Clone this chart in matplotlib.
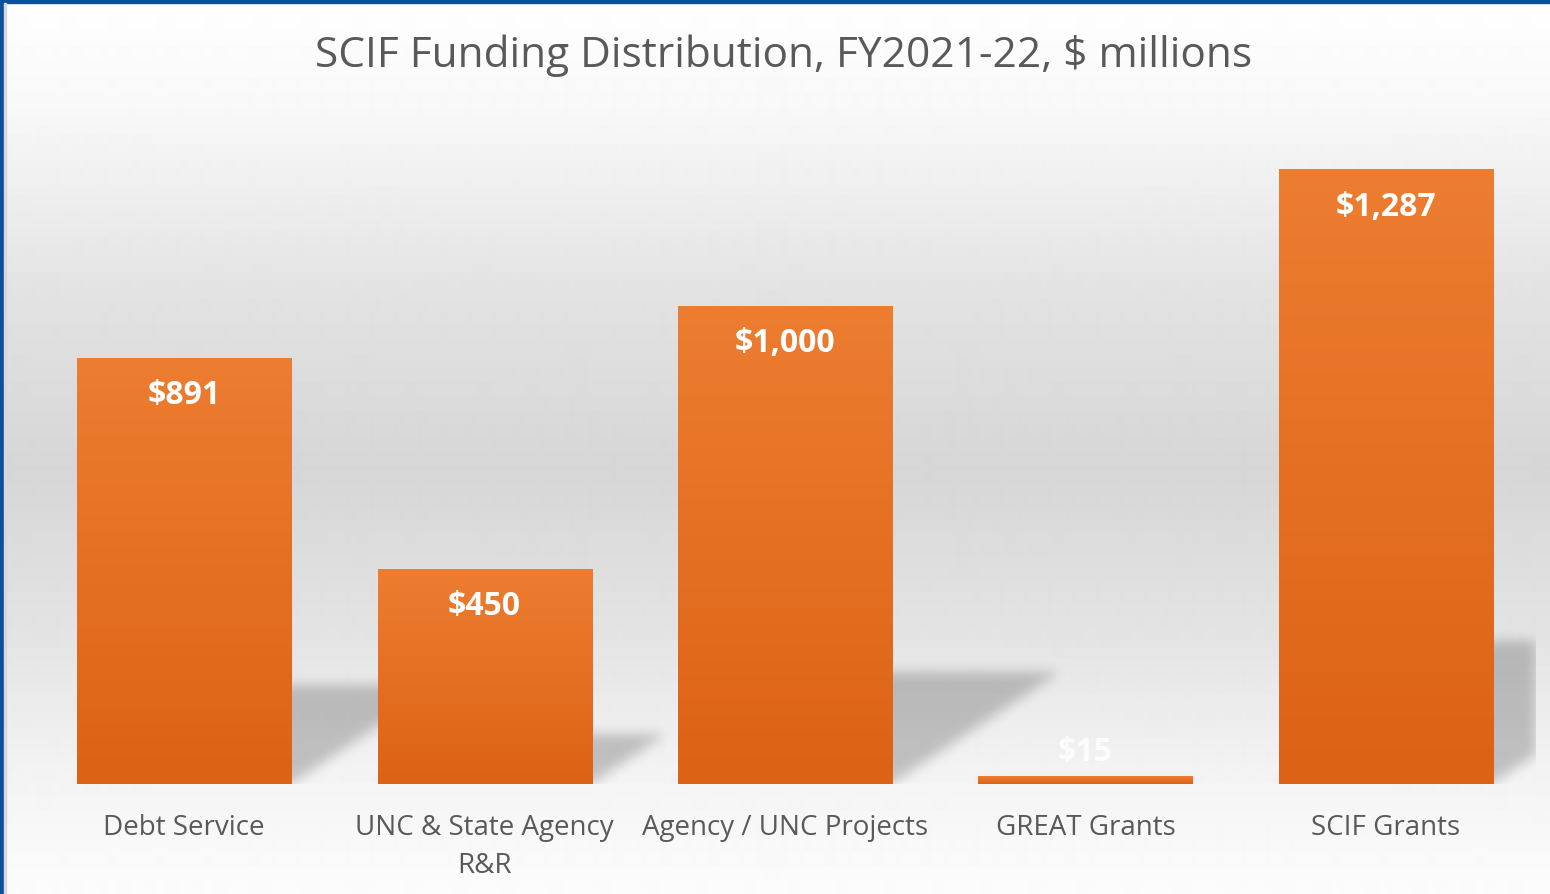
"""SCIF funding distribution bar chart, FY2021-22 ($ millions)."""
import numpy as np
import matplotlib
matplotlib.use("Agg")
import matplotlib.pyplot as plt
from matplotlib.patches import Rectangle
from matplotlib.colors import LinearSegmentedColormap

categories = ["Debt Service", "UNC & State Agency\nR&R", "Agency / UNC Projects",
              "GREAT Grants", "SCIF Grants"]
values = [891, 450, 1000, 15, 1287]
value_labels = ["$891", "$450", "$1,000", "$15", "$1,287"]

W, H = 1550, 895
plt.rcParams["font.family"] = ["Open Sans", "DejaVu Sans"]
fig = plt.figure(figsize=(W / 100, H / 100), dpi=100)

# page background: white -> grey -> white vertical gradient
bg = fig.add_axes([0, 0, 1, 1], zorder=0)
stops_y = [0, 110, 300, 470, 640, 783, 895]
stops_v = [255, 248, 226, 214, 228, 244, 252]
rows = np.interp(np.arange(H), stops_y, stops_v) / 255
bg.imshow(rows[:, None], cmap="gray", vmin=0, vmax=1, aspect="auto",
          extent=[0, 1, 0, 1], interpolation="bilinear")
bg.set_xlim(0, 1)
bg.set_ylim(0, 1)
bg.axis("off")

# blue frame on the left and top edges
fig.add_artist(Rectangle((0, 0), 3.5 / W, 1, transform=fig.transFigure,
                         color="#0B4F9E", zorder=10))
fig.add_artist(Rectangle((0, 1 - 3.5 / H), 1, 3.5 / H, transform=fig.transFigure,
                         color="#0B4F9E", zorder=10))
fig.add_artist(Rectangle((3.5 / W, 0), 2 / W, 1 - 3.5 / H, transform=fig.transFigure,
                         color="#d8d8d8", zorder=10))

ax = fig.add_axes([34 / W, 110 / H, 1502 / W, 668 / H], zorder=1)
ax.patch.set_alpha(0)
bar_w = 0.713
xlim, ylim = (-0.5, 4.5), (0, 1400)

# soft perspective shadows behind the bars
nx, ny = 1502, 668
X, Y = np.meshgrid(np.linspace(*xlim, nx), np.linspace(*ylim, ny))
mask = np.zeros_like(X)
for i, v in enumerate(values):
    dy, dx = 0.233 * v, 0.000556 * v
    t = Y / dy
    inside = (Y <= dy) & (X >= i - bar_w / 2 + t * dx) & (X <= i + bar_w / 2 + t * dx)
    mask = np.maximum(mask, inside.astype(float))
k = np.exp(-0.5 * (np.arange(-18, 19) / 6.0) ** 2)
k /= k.sum()
mask = np.apply_along_axis(lambda r: np.convolve(r, k, mode="same"), 1, mask)
mask = np.apply_along_axis(lambda c: np.convolve(c, k, mode="same"), 0, mask)
shadow = np.zeros((ny, nx, 4))
shadow[..., 3] = 0.21 * mask
ax.imshow(shadow, extent=[*xlim, *ylim], origin="lower", aspect="auto", zorder=1)

# bars with a light-top / dark-bottom orange gradient
bars = ax.bar(range(len(values)), values, width=bar_w, color="#E5712A", zorder=2)
orange = LinearSegmentedColormap.from_list("orange", ["#DC6215", "#ED7D31"])
grad = np.linspace(0, 1, 256)[:, None]
for b in bars:
    ax.imshow(grad, cmap=orange, origin="lower", aspect="auto", zorder=3,
              extent=[b.get_x(), b.get_x() + b.get_width(), 0, b.get_height()])

for i, (v, lab) in enumerate(zip(values, value_labels)):
    ax.annotate(lab, (i, v), xytext=(0, -26 if v > 100 else 18),
                textcoords="offset points", ha="center", va="center",
                color="white", fontsize=23, fontweight="bold", zorder=4,
                alpha=1 if v > 100 else 0.85)

ax.set_xlim(*xlim)
ax.set_ylim(*ylim)
ax.set_xticks(range(len(categories)), categories, fontsize=20, color="#595959")
for t in ax.get_xticklabels():
    t.set_linespacing(1.45)
ax.set_yticks([])
ax.tick_params(length=0, pad=21)
for s in ax.spines.values():
    s.set_visible(False)

fig.text(784 / W, 1 - 56 / H, "SCIF Funding Distribution, FY2021-22, $ millions",
         ha="center", va="center", fontsize=30.5, color="#595959")

fig.savefig("out.png", dpi=100)
